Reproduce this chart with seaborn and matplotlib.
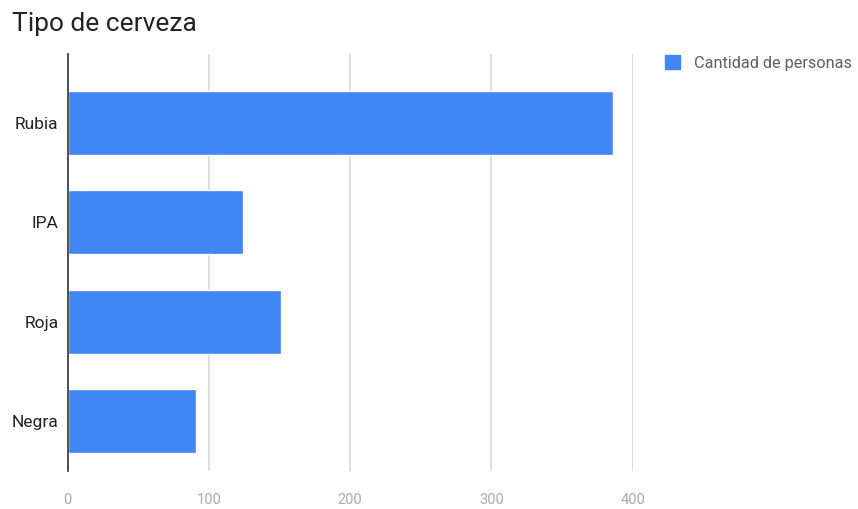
import matplotlib
matplotlib.use("Agg")
import matplotlib.pyplot as plt
import seaborn as sns
import pandas as pd
from matplotlib.patches import Patch

categories = ["Rubia", "IPA", "Roja", "Negra"]
values = [386, 124, 151, 91]
series_name = "Cantidad de personas"
x_ticks = [0, 100, 200, 300, 400]

sns.set_style("white")
plt.rcParams["font.family"] = ["Roboto", "DejaVu Sans"]

df = pd.DataFrame({"Tipo": categories, series_name: values})

W, H = 858, 509
fig = plt.figure(figsize=(W / 100, H / 100), dpi=100)
left, right, top, bottom = 67.5, 633.3, 53.5, 471.0
ax = fig.add_axes([left / W, 1 - bottom / H, (right - left) / W, (bottom - top) / H])

color = "#4285F4"
sns.barplot(data=df, y="Tipo", x=series_name, ax=ax, color=color,
            width=0.643, saturation=1, orient="h", zorder=3)

ax.set_xlim(0, 400.5)
ax.set_ylim(3.5, -0.698)
ax.set_xticks(x_ticks)
ax.set_xticklabels([str(t) for t in x_ticks], color="#ababab", fontsize=10.5)
ax.tick_params(axis="x", length=0, pad=16)
ax.tick_params(axis="y", length=0, pad=6.5, labelsize=12.5, labelcolor="#222222")
ax.set_xlabel("")
ax.set_ylabel("")
ax.grid(axis="x", color="#d9d9d9", linewidth=1.2, zorder=0)
for s in ["top", "right", "bottom"]:
    ax.spines[s].set_visible(False)
ax.spines["left"].set_color("#333333")
ax.spines["left"].set_linewidth(1.2)
ax.spines["left"].set_zorder(4)

fig.text(12 / W, 1 - 31 / H, "Tipo de cerveza", fontsize=19, color="#222222",
         ha="left", va="baseline")

leg = fig.legend(handles=[Patch(facecolor=color, edgecolor=color, label=series_name)],
                 loc="upper left", bbox_to_anchor=(665 / W, 1 - 55 / H),
                 frameon=False, fontsize=11.7, handlelength=0.95, handleheight=0.95,
                 handletextpad=0.85, borderaxespad=0, borderpad=0)
for t in leg.get_texts():
    t.set_color("#5f5f5f")

fig.savefig("out.png", dpi=100, facecolor="white")
